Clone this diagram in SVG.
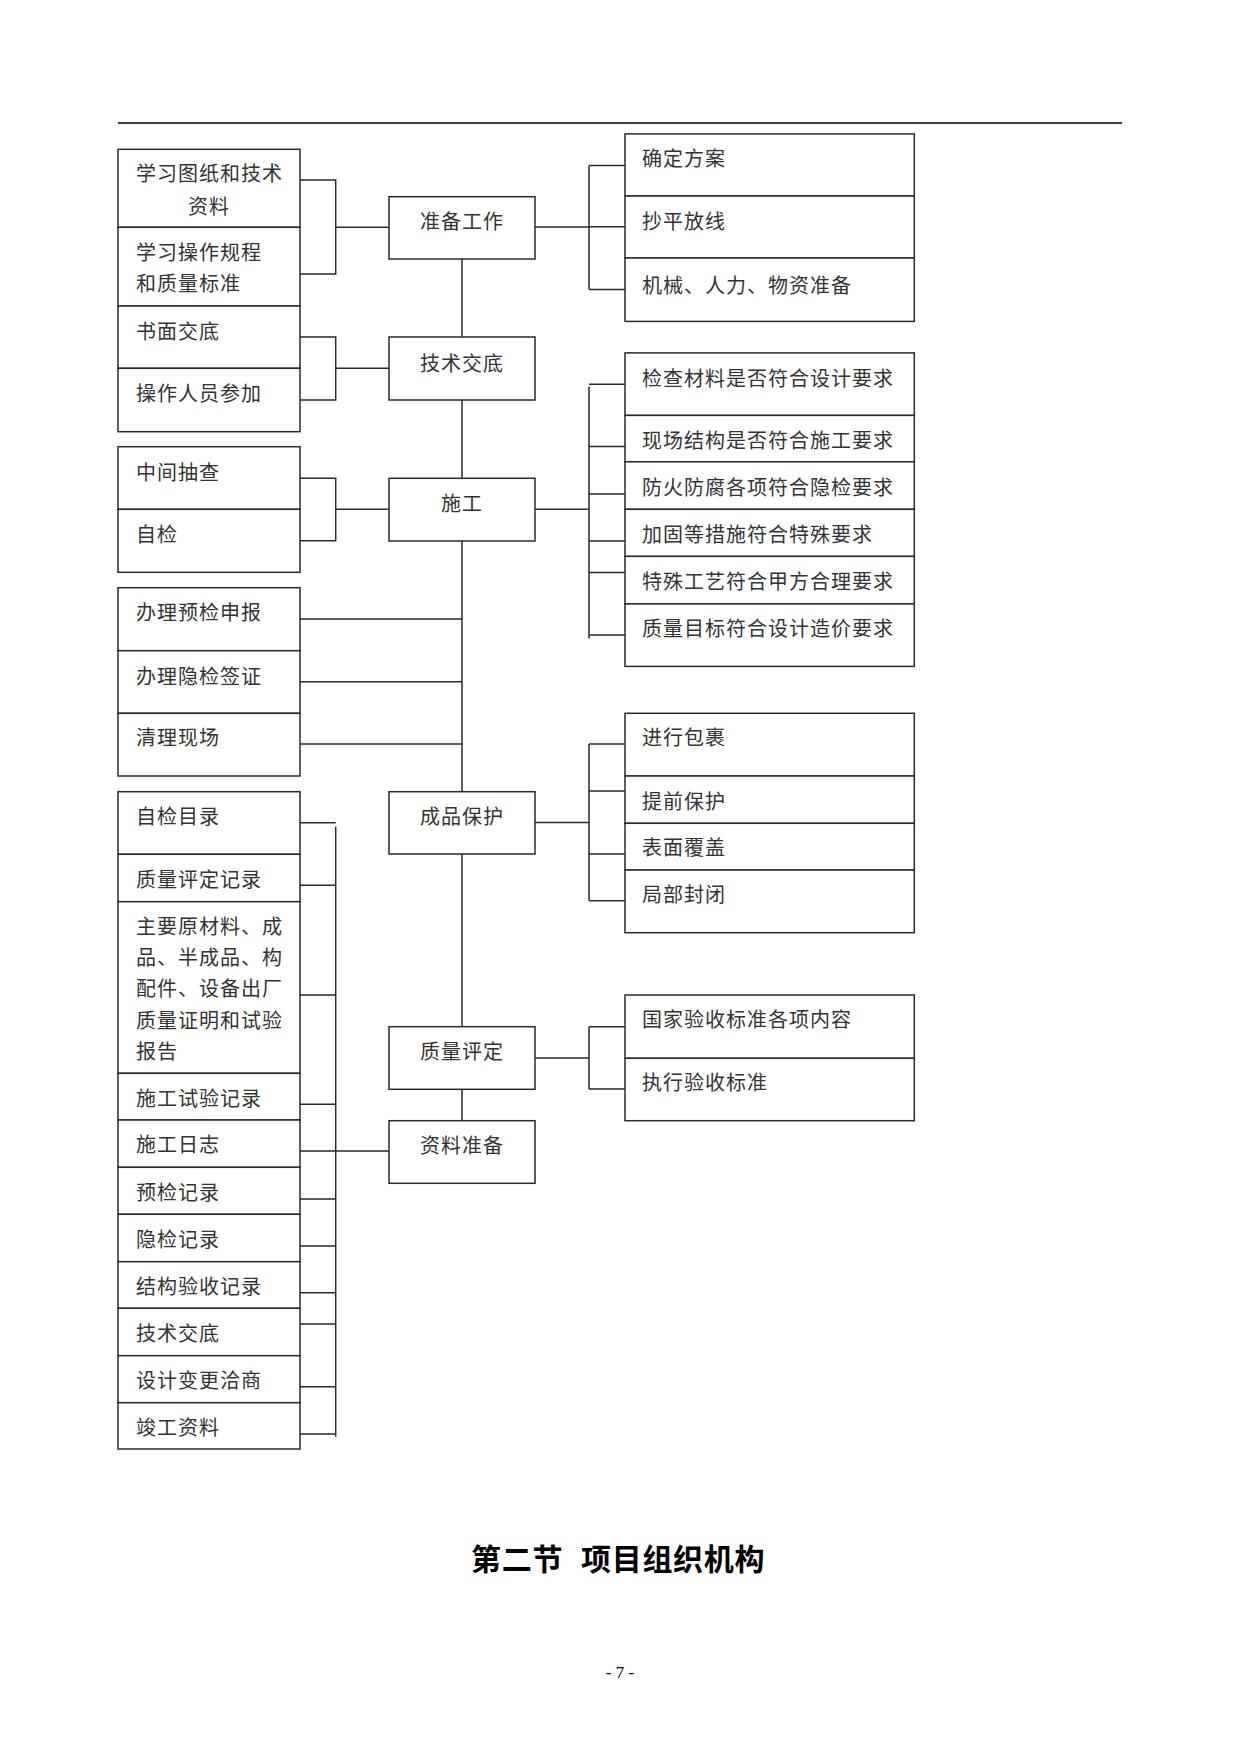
<svg xmlns="http://www.w3.org/2000/svg" width="1241" height="1755" viewBox="0 0 1241 1755">
<style>
.b{fill:#fff;stroke:#2a2a2a;stroke-width:1.5}
.t{font-family:"Noto Sans CJK SC","Noto Sans",sans-serif;font-size:20px;letter-spacing:1px;fill:#333;dominant-baseline:central}
.c{text-anchor:middle}
.ln{fill:none;stroke:#2a2a2a;stroke-width:1.5}
.h{font-family:"Noto Sans CJK SC",sans-serif;font-size:30px;font-weight:bold;letter-spacing:0.7px;fill:#000;dominant-baseline:central}
</style>
<rect width="1241" height="1755" fill="#fff"/>
<line x1="118" y1="123" x2="1122" y2="123" stroke="#000" stroke-width="1.3"/>

<g id="connectors" class="ln">
<path d="M300 180H335.7V274H300M335.7 227.3H389"/>
<path d="M300 337H335.7V400H300M335.7 368.3H389"/>
<path d="M300 478.3H335.7V540.7H300M335.7 509.3H389"/>
<path d="M300 619H462M300 681.7H462M300 744H462"/>
<path d="M300 822.7H335.7M300 885.3H335.7M300 995H335.7M300 1104.3H335.7M300 1151H335.7M300 1199H335.7M300 1246H335.7M300 1292.7H335.7M300 1324H335.7M300 1386.7H335.7M300 1434H335.7M335.7 826.7V1436.7M335.7 1151H389"/>
<path d="M462 259V337M462 400V478.3M462 541V791.7M462 854V1026.7M462 1089.3V1120.7"/>
<path d="M535 227H589M589 165.4V289.6M589 165.4H625M589 226.8H625M589 289.6H625"/>
<path d="M535 509.3H589M589 386.8V638.6M589 384.3H625M589 446.4H625M589 494H625M589 541H625M589 572.5H625M589 635H625"/>
<path d="M535 822.5H589M589 744V900.7M589 744H625M589 791H625M589 854H625M589 900.7H625"/>
<path d="M535 1058H589M589 1026.7V1089M589 1026.7H625M589 1089H625"/>
</g>

<g id="n-zbgz"><rect class="b" x="389" y="196.7" width="146" height="62.3"/><text class="t c" x="462" y="220">准备工作</text></g>
<g id="n-jsjd"><rect class="b" x="389" y="337" width="146" height="63"/><text class="t c" x="462" y="362">技术交底</text></g>
<g id="n-sg"><rect class="b" x="389" y="478.3" width="146" height="62.7"/><text class="t c" x="462" y="502.7">施工</text></g>
<g id="n-cpbh"><rect class="b" x="389" y="791.7" width="146" height="62.3"/><text class="t c" x="462" y="815">成品保护</text></g>
<g id="n-zlpd"><rect class="b" x="389" y="1026.7" width="146" height="62.6"/><text class="t c" x="462" y="1050.7">质量评定</text></g>
<g id="n-zlzb"><rect class="b" x="389" y="1120.7" width="146" height="62.6"/><text class="t c" x="462" y="1144">资料准备</text></g>

<g id="l1"><rect class="b" x="118" y="149.3" width="182" height="78"/><text class="t" x="136" y="172.7">学习图纸和技术</text><text class="t c" x="209" y="205">资料</text></g>
<g id="l2"><rect class="b" x="118" y="227.3" width="182" height="78.7"/><text class="t" x="136" y="251.7">学习操作规程</text><text class="t" x="136" y="282.7">和质量标准</text></g>
<g id="l3"><rect class="b" x="118" y="306" width="182" height="62.3"/><text class="t" x="136" y="330">书面交底</text></g>
<g id="l4"><rect class="b" x="118" y="368.3" width="182" height="63.4"/><text class="t" x="136" y="392.7">操作人员参加</text></g>
<g id="l5"><rect class="b" x="118" y="446.7" width="182" height="62.6"/><text class="t" x="136" y="471">中间抽查</text></g>
<g id="l6"><rect class="b" x="118" y="509.3" width="182" height="63"/><text class="t" x="136" y="533.3">自检</text></g>
<g id="l7"><rect class="b" x="118" y="587.7" width="182" height="63"/><text class="t" x="136" y="611.7">办理预检申报</text></g>
<g id="l8"><rect class="b" x="118" y="650.7" width="182" height="62.6"/><text class="t" x="136" y="675">办理隐检签证</text></g>
<g id="l9"><rect class="b" x="118" y="713.3" width="182" height="62.7"/><text class="t" x="136" y="736.7">清理现场</text></g>
<g id="l10"><rect class="b" x="118" y="791.7" width="182" height="62.6"/><text class="t" x="136" y="815">自检目录</text></g>
<g id="l11"><rect class="b" x="118" y="854.3" width="182" height="47.4"/><text class="t" x="136" y="878.3">质量评定记录</text></g>
<g id="l12"><rect class="b" x="118" y="901.7" width="182" height="171.6"/><text class="t" x="136" y="925.7">主要原材料、成</text><text class="t" x="136" y="956.5">品、半成品、构</text><text class="t" x="136" y="987.5">配件、设备出厂</text><text class="t" x="136" y="1019">质量证明和试验</text><text class="t" x="136" y="1050">报告</text></g>
<g id="l13"><rect class="b" x="118" y="1073.3" width="182" height="46.7"/><text class="t" x="136" y="1097.7">施工试验记录</text></g>
<g id="l14"><rect class="b" x="118" y="1120" width="182" height="47.3"/><text class="t" x="136" y="1143.3">施工日志</text></g>
<g id="l15"><rect class="b" x="118" y="1167.3" width="182" height="47"/><text class="t" x="136" y="1191.7">预检记录</text></g>
<g id="l16"><rect class="b" x="118" y="1214.3" width="182" height="47.4"/><text class="t" x="136" y="1238.3">隐检记录</text></g>
<g id="l17"><rect class="b" x="118" y="1261.7" width="182" height="46.6"/><text class="t" x="136" y="1285">结构验收记录</text></g>
<g id="l18"><rect class="b" x="118" y="1308.3" width="182" height="47.4"/><text class="t" x="136" y="1332.7">技术交底</text></g>
<g id="l19"><rect class="b" x="118" y="1355.7" width="182" height="47"/><text class="t" x="136" y="1379.3">设计变更洽商</text></g>
<g id="l20"><rect class="b" x="118" y="1402.7" width="182" height="46.3"/><text class="t" x="136" y="1426">竣工资料</text></g>

<g id="r1"><rect class="b" x="625" y="133.9" width="289.3" height="62.1"/><text class="t" x="642" y="157.5">确定方案</text></g>
<g id="r2"><rect class="b" x="625" y="196" width="289.3" height="62"/><text class="t" x="642" y="220">抄平放线</text></g>
<g id="r3"><rect class="b" x="625" y="258" width="289.3" height="63.4"/><text class="t" x="642" y="284">机械、人力、物资准备</text></g>
<g id="r4"><rect class="b" x="625" y="352.9" width="289.3" height="62.5"/><text class="t" x="642" y="377.5">检查材料是否符合设计要求</text></g>
<g id="r5"><rect class="b" x="625" y="415.4" width="289.3" height="46.4"/><text class="t" x="642" y="439.5">现场结构是否符合施工要求</text></g>
<g id="r6"><rect class="b" x="625" y="461.8" width="289.3" height="47.5"/><text class="t" x="642" y="486">防火防腐各项符合隐检要求</text></g>
<g id="r7"><rect class="b" x="625" y="509.3" width="289.3" height="47.1"/><text class="t" x="642" y="533.5">加固等措施符合特殊要求</text></g>
<g id="r8"><rect class="b" x="625" y="556.4" width="289.3" height="47.5"/><text class="t" x="642" y="580.5">特殊工艺符合甲方合理要求</text></g>
<g id="r9"><rect class="b" x="625" y="603.9" width="289.3" height="62.5"/><text class="t" x="642" y="627">质量目标符合设计造价要求</text></g>
<g id="r10"><rect class="b" x="625" y="713.3" width="289.3" height="62.7"/><text class="t" x="642" y="736.7">进行包裹</text></g>
<g id="r11"><rect class="b" x="625" y="776" width="289.3" height="47.3"/><text class="t" x="642" y="800">提前保护</text></g>
<g id="r12"><rect class="b" x="625" y="823.3" width="289.3" height="46.7"/><text class="t" x="642" y="846.7">表面覆盖</text></g>
<g id="r13"><rect class="b" x="625" y="870" width="289.3" height="62.7"/><text class="t" x="642" y="893.3">局部封闭</text></g>
<g id="r14"><rect class="b" x="625" y="995" width="289.3" height="63.3"/><text class="t" x="642" y="1018.3">国家验收标准各项内容</text></g>
<g id="r15"><rect class="b" x="625" y="1058.3" width="289.3" height="62.4"/><text class="t" x="642" y="1081.7">执行验收标准</text></g>

<text class="h" y="1557"><tspan x="471">第二节</tspan><tspan x="581">项目组织机构</tspan></text>
<text x="620" y="1672" text-anchor="middle" dominant-baseline="central" font-family="Liberation Serif,serif" font-size="17" fill="#000">- 7 -</text>
</svg>
